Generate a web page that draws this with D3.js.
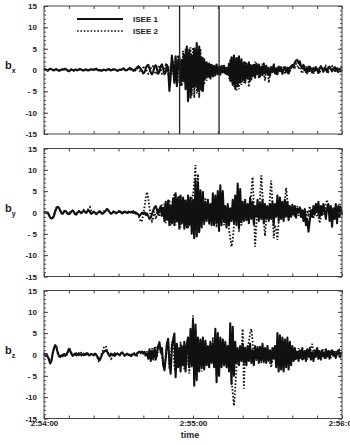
<!DOCTYPE html>
<html>
<head>
<meta charset="utf-8">
<script src="https://cdn.jsdelivr.net/npm/d3@7"></script>
<style>
body{margin:0;background:#fff;}
text{font-family:"Liberation Sans",Arial,sans-serif;}
</style>
</head>
<body>
<svg id="chart"></svg>
<script>
// sample spacing in seconds, data starts at 2:54:00
var STEP = 0.5;
var timeTicks = [0, 60, 120];
var timeLabels = ["2:54:00", "2:55:00", "2:56:00"];
var yMajor = [15, 10, 5, 0, -5, -10, -15];
var yLabels = ["15", "10", "5", "0", "- 5", "-10", "-15"];
var compNames = ["x", "y", "z"];
var seriesNames = ["ISEE 1", "ISEE 2"];
var markerTimes = [54.6, 70.5];

var bx1 = [
 0.1,0.2,0,-0.2,0.1,0.3,0.2,0,-0.1,0.1, 0.2,0,-0.2,-0.1,0.1,0.2,0.1,0.3,0.1,-0.1,
 -0.3,-0.1,0.1,0,-0.1,0.1,0,-0.1,0.1,0.2, 0.1,0,-0.1,0,0.1,0,-0.1,0.1,0.2,0.1,
 0,0.1,0.3,0.1,-0.1,0,-0.2,-0.1,0.1,0, -0.1,0.1,0.2,0,-0.1,0.1,0.2,0.1,0,-0.2,
 -0.1,0.1,0,0.2,0.4,0.1,-0.1,0,0.2,0.5, 0.3,0.1,-0.2,0,0.3,0.6,0.9,0.6,0.2,-0.3,
 -0.8,-0.5,0.3,1.0,1.2,0.4,-0.6,-1.0,-0.3,0.8, 1.1,0.2,-0.9,-0.4,0.9,1.3,0.3,-1.0,-0.5,1.2,
 0.5,-4.9,-1.5,3.4,0.8,-3.0,3.2,-3.8,2.0,3.0, -3.5,2.4,-2.5,3.5,-4.5,5.5,-7.3,4.8,-6.5,3.5,
 -4.0,5.0,-3.8,6.3,-4.9,5.5,-4.5,2.9,-4.9,2.5, -2.0,1.8,-1.5,1.5,-2.0,1.2,-1.5,1.0,-1.2,1.3,
 -1.0,0.8,-1.1,0.9,-0.6,1.0,-0.8,0.5,-1.0,1.5, -2.5,3.0,-3.5,3.4,-4.4,2.8,-3.8,3.2,-3.0,2.5,
 -2.5,1.8,-3.0,1.5,-2.0,1.8,-2.5,1.0,-1.5,1.2, -1.8,1.5,-1.0,1.3,-1.5,0.8,-1.2,1.5,-0.8,1.0,
 -1.0,0.5,-1.3,0.6,-0.5,1.2,-0.8,0.3,-1.0,0.8, -0.3,0.6,-0.9,0.2,0.7,-0.4,0.5,-0.8,0.4,0.9,
 1.2,0.6,1.8,2.2,2.4,1.6,2.0,1.0,0.4,1.2, 0.3,-0.5,0.6,-0.3,0.8,0.1,-0.6,0.5,-0.2,0.7,
 0,-0.7,0.4,0.9,0.2,-0.4,0.5,0.1,-0.5,0.6, 0.8,0.2,-0.3,0.4,0.6,-0.2,0.3,-0.5,0.2,-0.3,
 0];
var bx2 = [
 0,0.1,0.2,0,-0.1,0.2,0.3,0.1,-0.2,0, 0.1,0.2,0,-0.2,0,0.1,0.3,0.2,0,-0.2,
 -0.1,0,0.2,0.1,-0.2,0,0.1,-0.1,0,0.3, 0.2,-0.1,0,0.1,0.2,-0.1,0,0.2,0.1,0,
 0.1,0.2,0.1,0,-0.2,-0.1,0,-0.2,0,0.2, 0,0.1,0.3,0.1,0,0,0.1,0.2,-0.1,-0.1,
 0,0.2,0.1,0.1,0.2,0,-0.2,0.1,0.3,0.2, 0,0.2,0,-0.3,0,0.4,0.2,-0.2,-0.5,-0.3,
 0.6,0.9,0.4,-0.4,-0.9,-0.6,0.3,1.0,0.8,-0.3, -1.0,-0.6,0.7,1.1,0.2,-0.9,-0.8,0.6,1.2,0.3,
 -1.0,-2.5,1.5,-1.0,2.0,-2.5,3.0,-2.0,3.5,-3.0, 2.0,-3.8,4.5,-3.0,5.0,-3.7,4.0,-5.0,5.3,-6.0,
 5.3,-6.5,5.0,-5.5,4.5,-6.5,5.0,-5.0,3.0,-3.5, 2.0,-2.5,1.5,-1.8,1.6,-1.0,1.2,-1.5,0.8,-0.8,
 0.6,-1.0,0.9,-0.5,1.1,-0.8,0.7,-1.2,0.5,-2.0, 2.5,-3.0,3.0,-4.0,2.5,-5.0,3.0,-4.5,2.0,-3.5,
 1.5,-3.0,2.0,-2.0,1.0,-4.0,1.5,-2.5,1.3,-1.5, 2.0,-1.0,1.2,-2.0,0.6,-1.0,1.5,-0.5,-2.5,0.5,
 0.8,-3.0,-1.0,1.0,-0.5,1.5,0.2,-1.0,0.8,-0.3, 1.0,0.3,-0.5,0.8,-1.0,0.2,-0.4,0.9,-0.2,0.5,
 0.3,1.0,0.6,1.5,1.0,0.3,1.2,-0.2,-0.8,0.5, -0.4,0.8,-1.0,0.4,-0.5,0.6,0.2,-0.9,0.4,-0.3,
 0.6,-0.2,-0.8,0.3,0.8,-0.5,0.2,0.9,0.1,-0.4, 0.3,0.6,0.9,0.2,-0.4,0.5,0.1,0.6,-0.2,0.8,
 0.5];
var by1 = [
 0,0.1,-0.1,0,-0.6,-1.2,-1.4,-1.3,-0.8,0.2, 1.0,1.3,1.1,0.5,0,-0.3,0.1,0.4,0.2,-0.2,
 -0.4,-0.2,0.2,0.5,0.2,-0.3,-0.5,-0.1,0.3,0.1, -0.2,0.1,0.4,0.2,-0.1,0.3,0.5,0.1,-0.3,-0.1,
 0.2,0,-0.4,-0.2,0.1,0.3,0,-0.3,-0.1,0.2, 0.5,0.8,0.4,0,-0.3,-0.1,0.2,0.1,-0.2,0,
 0.1,0.3,0,-0.2,0.1,0.2,0,-0.1,0.2,0.1, 0,0.2,-0.1,0.1,0,-0.3,-0.5,-0.8,-0.4,0,
 -0.3,0,-0.6,-0.2,-0.9,-1.5,-1.2,-0.3,0.5,1.2, 1.5,0.6,-0.5,0.8,1.5,-0.8,1.0,-2.0,2.5,-1.5,
 2.8,-3.0,1.5,-2.5,3.3,-3.0,4.5,-2.0,3.5,-3.8, 4.0,-2.5,3.5,-3.8,2.8,-3.5,4.0,-3.0,3.5,-5.0,
 3.0,-6.0,7.6,-5.5,7.0,-4.6,5.2,-3.5,4.8,-2.3, 2.5,-2.0,3.0,-2.3,2.0,-3.0,4.5,-3.0,4.0,-2.5,
 5.0,-4.3,6.4,-3.0,5.0,-2.0,1.5,-3.5,2.0,-3.0, 1.0,-2.0,3.0,-2.5,4.0,-3.0,6.8,-3.5,5.5,-2.0,
 2.5,-2.0,3.0,-1.8,2.0,-2.5,3.5,-1.5,2.5,-2.8, 1.5,-1.0,3.0,-2.0,2.2,-1.5,3.0,-2.5,2.0,-1.5,
 1.5,-2.0,2.0,-1.5,2.5,-3.0,2.0,-1.0,4.0,-2.0, 3.5,-1.5,2.5,-2.0,3.0,-1.0,2.5,-1.8,1.5,-1.0,
 1.8,-0.5,1.5,-1.2,1.0,0,1.2,-1.0,0.5,-2.0, 0.8,-3.0,-1.5,-4.5,-2.0,0.5,-1.0,1.5,-0.5,2.0,
 0,2.5,-1.0,1.5,-0.5,2.0,0.5,-1.5,1.0,2.0, -2.0,1.5,-3.3,1.0,-1.5,2.0,-2.5,1.5,-1.0,1.2,
 -0.5];
var by2 = [
 0.2,0,-0.3,-0.1,-0.5,-1.0,-1.5,-1.2,-0.6,0.3, 1.2,1.5,1.0,0.3,-0.2,0,0.3,0.2,-0.1,-0.3,
 -0.2,0.1,0.3,0.4,0,-0.4,-0.3,0.1,0.4,0.2, -0.1,0.2,0.6,0.3,0,0.5,1.0,1.3,0.4,0,
 0.1,-0.2,-0.3,0,0.2,0.1,-0.2,-0.1,0.3,0.4, 0.6,1.0,0.5,0.1,-0.2,0,0.3,0.2,-0.1,0.1,
 0.3,0.5,0.1,-0.3,0,0.3,0.1,-0.2,0,0.2, 0.1,-0.2,0.3,0,-0.3,-0.1,-0.8,-1.5,-2.2,-1.8,
 -0.5,1.5,3.5,4.8,3.2,1.0,-1.0,-2.0,-1.2,0.2, -1.5,-0.3,0.8,-1.0,0.5,1.8,-0.5,2.0,-2.5,1.5,
 -2.0,3.0,-3.0,2.5,-1.5,4.5,-3.0,3.0,-2.5,4.0, -3.5,2.0,-2.0,3.0,-3.0,2.5,-3.8,2.5,-2.0,4.0,
 4.0,7.0,11.1,-6.0,9.0,-4.5,3.0,-2.0,2.0,-3.0, 3.5,-1.5,2.0,-3.0,1.5,-2.5,3.0,-1.5,2.5,-3.5,
 3.0,-2.0,4.0,-1.5,0.5,-3.0,1.0,-2.5,-1.0,-4.0, -6.0,-8.0,-6.5,-3.0,0.5,-2.0,1.5,-4.5,-1.0,-3.0,
 -0.5,1.0,-0.5,1.5,0,-1.0,1.5,5.0,8.3,2.0, -8.0,-3.0,0.5,-1.0,3.5,8.7,4.0,-2.0,-5.5,-1.5,
 0.5,-1.0,4.0,7.5,2.0,-6.0,-3.0,-4.0,-6.4,-2.0, 0.5,-1.0,1.0,0,3.0,5.8,3.0,0.5,-1.0,1.0,
 -0.5,0.8,-1.0,0.5,1.5,-0.8,0.3,1.0,-1.5,0.5, -0.5,-2.0,0.5,-1.0,1.5,-0.5,0.8,-1.5,0.5,1.0,
 -1.0,-0.5,-2.5,-1.0,1.0,-0.5,0.5,2.0,3.0,1.0, -0.5,0.5,-1.5,1.0,0,1.5,-1.0,0.5,2.0,0.5,
 -0.5];
var bz1 = [
 0.2,-0.3,0.1,-0.5,-1.2,-2.1,-1.5,0.2,1.5,2.2, 1.8,0.5,-0.3,-0.6,-0.2,-0.4,0.1,-0.3,0,0.5,
 1.3,0.9,0.2,-0.3,0,0.2,-0.2,0,0.3,0.1, -0.2,0,0.2,-0.1,0,0.3,0,-0.2,0.1,0,
 -0.2,0.2,0,-0.5,-1.0,-1.3,-0.6,0.2,0.5,0.8, 1.0,0.6,0,-0.3,0.2,-0.2,0.1,-0.3,0,0.2,
 0,-0.2,0.3,0.5,0.1,-0.3,0,0.2,-0.1,0, -0.4,-0.1,0.2,0,-0.2,0.3,0.5,0.7,0.4,0.7,
 0.2,0.6,-0.2,0.3,-1.0,1.2,-1.5,0.8,-0.8,1.5, -1.2,0.5,2.0,2.9,0.5,1.5,-2.5,-3.7,-1.0,2.5,
 3.7,-2.0,-4.5,1.5,3.5,4.9,-5.3,2.5,-3.0,1.5, -4.0,2.0,-2.5,3.0,-4.0,2.5,4.0,-3.0,6.0,-2.5,
 8.0,-7.3,7.0,-6.0,4.0,-4.0,3.5,-3.0,4.0,-3.5, 3.0,-2.5,2.0,-3.0,3.0,-2.0,2.5,-3.0,6.0,-6.5,
 5.0,-5.0,4.0,-3.0,3.5,-2.5,3.0,-3.0,2.0,-4.0, 7.3,-6.9,6.5,-5.0,3.0,-2.0,1.5,-2.5,2.0,-1.5,
 2.5,-2.0,1.5,-2.5,2.0,-1.5,2.5,-2.0,1.0,-2.5, 2.0,-1.0,1.5,-2.0,1.8,-1.5,2.5,-1.8,1.5,-2.0,
 2.0,-1.5,1.0,-2.0,1.5,-1.0,2.0,-3.0,5.0,-4.0, 4.5,-3.5,4.0,-4.0,3.5,-3.0,4.0,-3.5,3.0,-2.5,
 2.0,-1.5,1.5,-1.0,0.5,-1.5,1.0,-0.8,1.5,-1.0, 0.8,-1.5,1.2,-0.5,1.5,-1.2,0.5,-1.5,1.0,-0.5,
 1.5,-1.0,0.8,-1.2,1.0,0,-0.8,1.2,-0.5,0.8, -1.0,0.5,1.0,-0.3,0.6,-0.8,0.4,1.0,-0.5,0.3,
 0.2];
var bz2 = [
 0.3,0,-0.2,-0.6,-1.0,-1.8,-1.2,0.5,1.2,1.8, 1.5,0.3,-0.2,-0.4,0,-0.2,0.2,0,-0.3,0.3,
 1.0,1.2,0.5,0,-0.2,0.1,0.3,0,-0.2,0.2, 0.4,0,-0.2,0.1,0.3,0,-0.2,0.2,0.1,-0.1,
 0,-0.3,-0.1,-0.8,-1.5,-1.0,0,0.5,1.5,2.0, 1.8,0.8,0,-0.5,-1.0,-0.6,0,0.3,-0.1,0.2,
 -0.2,0,0.4,0.2,-0.2,0.1,0.3,0,-0.3,0, 0.2,-0.1,0,0.3,0.1,-0.2,0.4,0.7,0.3,0.5,
 0.5,0.2,-0.5,0.8,-1.2,1.0,-0.5,1.5,-1.5,0.5, 1.8,-0.5,1.0,2.2,1.0,-0.5,-2.0,-3.0,-0.5,3.0,
 2.5,-3.5,-2.0,3.0,2.0,-3.0,-4.0,2.0,1.0,-3.0, 3.0,-2.0,1.5,-3.5,2.0,-2.5,3.0,-4.5,2.5,-3.0,
 9.2,-5.0,6.0,-3.5,3.0,-2.5,2.0,-4.0,2.5,-2.0, 3.5,-1.5,1.5,-2.5,2.0,-1.5,4.0,-2.0,5.0,-5.0,
 3.0,-3.0,2.0,-2.0,1.5,-1.0,2.5,-1.5,1.0,-3.0, 4.0,-6.0,-9.0,-12.0,-8.0,-3.0,1.0,-1.0,1.0,-1.0,
 6.0,-8.0,2.0,-1.0,1.5,3.0,5.0,6.0,3.0,-1.0, 1.0,-1.5,2.0,-1.0,0.5,-2.0,1.5,-1.0,0.5,-1.5,
 -0.5,1.0,-2.0,-3.0,-1.0,1.5,-0.5,1.0,-2.0,3.0, -3.0,2.5,-2.5,3.0,-1.5,1.0,-2.0,2.0,-1.0,1.5,
 -1.0,0.5,-1.5,1.0,-0.5,1.5,-1.0,0.5,-1.5,0.8, -0.5,1.0,-1.2,0.5,-0.8,1.5,2.5,0.5,-1.0,0.8,
 -0.5,1.0,-1.0,0.5,-0.8,1.2,0,-1.0,0.8,-0.5, 1.0,-0.8,0.3,1.0,-0.5,0.8,-0.3,0.5,1.0,-0.3,
 0.5];

var width = 350, height = 445;
var left = 44, right = 342;
var panelTops = [6, 148.5, 290.5];
var panelH = 128;
var panels = [[bx1, bx2], [by1, by2], [bz1, bz2]];

var svg = d3.select("#chart").attr("width", width).attr("height", height);

var x = d3.scaleLinear().domain([0, 120]).range([left, right]);

function toPoints(vals){
  return vals.map(function(v, i){ return {t: i*STEP, v: v}; });
}

panels.forEach(function(pair, p){
  var top = panelTops[p];
  var y = d3.scaleLinear().domain([-15, 15]).range([top + panelH, top]);
  var g = svg.append("g");

  var line = d3.line()
    .x(function(d){ return x(d.t); })
    .y(function(d){ return y(d.v); });

  g.append("path")
    .attr("d", line(toPoints(pair[0])))
    .attr("fill", "none")
    .attr("stroke", "#111")
    .attr("stroke-width", 2.1)
    .attr("stroke-linejoin", "round");
  g.append("path")
    .attr("d", line(toPoints(pair[1])))
    .attr("fill", "none")
    .attr("stroke", "#111")
    .attr("stroke-width", 1.8)
    .attr("stroke-dasharray", "1.6,1.8");

  // frame
  g.append("rect")
    .attr("x", left).attr("y", top)
    .attr("width", right - left).attr("height", panelH)
    .attr("fill", "none").attr("stroke", "#444").attr("stroke-width", 1);

  // y axes, ticks pointing inward
  var yMinor = d3.range(-15, 16, 1);
  var yl = d3.axisLeft(y).tickValues(yMajor).tickSizeInner(-4).tickSizeOuter(0).tickPadding(7)
    .tickFormat(function(d, i){ return yLabels[i]; });
  var ga = g.append("g").attr("transform", "translate(" + left + ",0)").call(yl);
  ga.select(".domain").remove();
  ga.selectAll("text").attr("font-size", 8).attr("font-weight", "bold").attr("fill", "#222")
    .attr("font-family", "Liberation Sans, Arial, sans-serif");
  ga.selectAll("line").attr("stroke", "#444");
  var gm = g.append("g").attr("transform", "translate(" + left + ",0)")
    .call(d3.axisLeft(y).tickValues(yMinor).tickSizeInner(-2).tickSizeOuter(0).tickFormat(""));
  gm.select(".domain").remove();
  gm.selectAll("line").attr("stroke", "#444");
  var gr = g.append("g").attr("transform", "translate(" + right + ",0)")
    .call(d3.axisRight(y).tickValues(yMinor).tickSizeInner(-2).tickSizeOuter(0).tickFormat(""));
  gr.select(".domain").remove();
  gr.selectAll("line").attr("stroke", "#444");
  var gr2 = g.append("g").attr("transform", "translate(" + right + ",0)")
    .call(d3.axisRight(y).tickValues(yMajor).tickSizeInner(-4).tickSizeOuter(0).tickFormat(""));
  gr2.select(".domain").remove();
  gr2.selectAll("line").attr("stroke", "#444");

  // x ticks every 10 s, top and bottom
  var xt = d3.range(0, 121, 10);
  var gt = g.append("g").attr("transform", "translate(0," + top + ")")
    .call(d3.axisTop(x).tickValues(xt).tickSizeInner(-3).tickSizeOuter(0).tickFormat(""));
  gt.select(".domain").remove();
  gt.selectAll("line").attr("stroke", "#444");
  var gb = g.append("g").attr("transform", "translate(0," + (top + panelH) + ")")
    .call(d3.axisBottom(x).tickValues(xt).tickSizeInner(-3).tickSizeOuter(0).tickPadding(2)
      .tickFormat(function(d){
        var k = timeTicks.indexOf(d);
        return (p === 2 && k >= 0) ? timeLabels[k] : "";
      }));
  gb.select(".domain").remove();
  gb.selectAll("line").attr("stroke", "#444");
  gb.selectAll("text").attr("font-size", 8).attr("font-weight", "bold").attr("fill", "#222")
    .attr("font-family", "Liberation Sans, Arial, sans-serif");

  // component label
  var lab = svg.append("text")
    .attr("x", 5).attr("y", y(0) - 1)
    .attr("font-size", 11).attr("font-weight", "bold").attr("fill", "#222");
  lab.append("tspan").text("b");
  lab.append("tspan").attr("font-size", 7).attr("dy", 4).text(compNames[p]);

  if (p === 0) {
    markerTimes.forEach(function(t){
      g.append("line")
        .attr("x1", x(t)).attr("x2", x(t))
        .attr("y1", top).attr("y2", top + panelH)
        .attr("stroke", "#222").attr("stroke-width", 1.3);
    });
    // legend
    var lg = svg.append("g");
    [19, 31].forEach(function(ly, k){
      lg.append("line")
        .attr("x1", 77).attr("x2", 123).attr("y1", ly).attr("y2", ly)
        .attr("stroke", "#111").attr("stroke-width", k === 0 ? 1.8 : 1.5)
        .attr("stroke-dasharray", k === 0 ? null : "1.6,1.8");
      lg.append("text")
        .attr("x", 133).attr("y", ly + 3)
        .attr("font-family", "Liberation Serif, Times New Roman, serif")
        .attr("font-size", 8).attr("font-weight", "bold").attr("fill", "#222")
        .text(seriesNames[k]);
    });
  }
});

svg.append("text")
  .attr("x", 190).attr("y", 438)
  .attr("text-anchor", "middle")
  .attr("font-size", 9).attr("font-weight", "bold").attr("fill", "#222")
  .text("time");
</script>
</body>
</html>
